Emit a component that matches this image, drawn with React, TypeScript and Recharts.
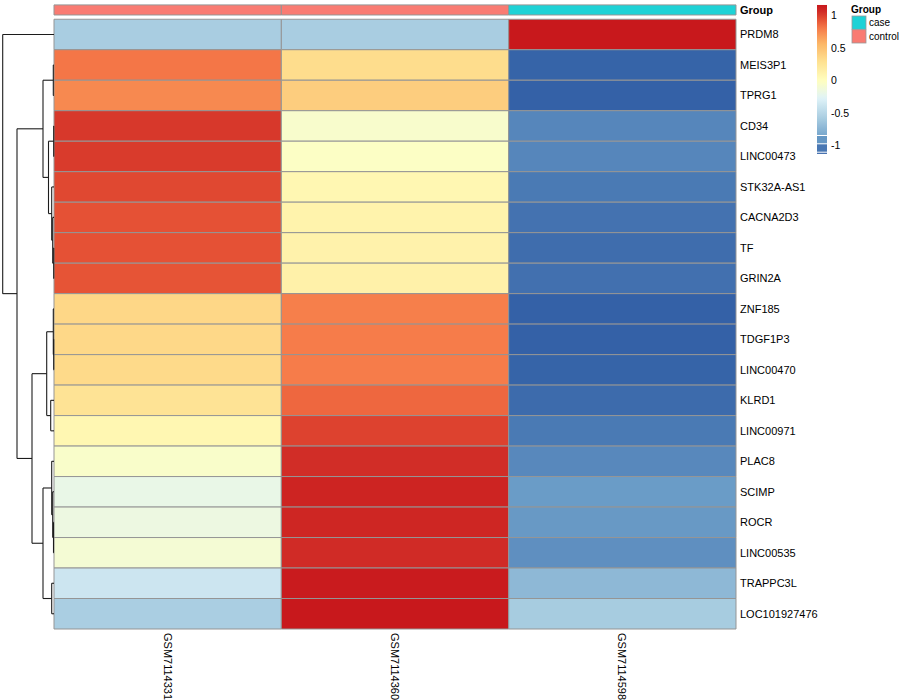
import { ComposedChart, XAxis, YAxis, ReferenceArea, ReferenceLine, Scatter } from "recharts";

// rows in the clustered order shown top -> bottom
const genes = [
  "PRDM8", "MEIS3P1", "TPRG1", "CD34", "LINC00473", "STK32A-AS1", "CACNA2D3", "TF", "GRIN2A",
  "ZNF185", "TDGF1P3", "LINC00470", "KLRD1", "LINC00971", "PLAC8", "SCIMP", "ROCR",
  "LINC00535", "TRAPPC3L", "LOC101927476",
];
const samples = ["GSM7114331", "GSM7114360", "GSM7114598"];
const sampleGroup = ["control", "control", "case"];

// row-scaled expression (z-score) per sample
const gsm7114331 = [
  -0.577, 0.82, 0.75, 1.02, 1.01, 0.97, 0.94, 0.94, 0.93,
  0.36, 0.35, 0.34, 0.27, 0.08, -0.05, -0.19, -0.16, -0.1, -0.38, -0.57,
];
const gsm7114360 = [
  -0.577, 0.32, 0.42, -0.06, -0.03, 0.08, 0.12, 0.13, 0.14,
  0.79, 0.8, 0.8, 0.87, 0.99, 1.06, 1.1, 1.09, 1.07, 1.14, 1.155,
];
const gsm7114598 = [
  1.155, -1.14, -1.15, -1.0, -1.0, -1.05, -1.08, -1.1, -1.09,
  -1.15, -1.15, -1.14, -1.11, -1.05, -0.99, -0.91, -0.92, -0.96, -0.72, -0.585,
];

// hierarchical clustering of rows: [left, right, height]; numbers refer to earlier merges
const merges: [string | number, string | number, number][] = [
  ["MEIS3P1", "TPRG1", 0.07], // 0
  ["CD34", "LINC00473", 0.03], // 1
  ["TF", "GRIN2A", 0.03], // 2
  ["CACNA2D3", 2, 0.13], // 3
  ["STK32A-AS1", 3, 0.23], // 4
  [1, 4, 0.55], // 5
  [0, 5, 1.1], // 6
  ["TDGF1P3", "LINC00470", 0.03], // 7
  ["ZNF185", 7, 0.07], // 8
  ["KLRD1", "LINC00971", 0.33], // 9
  [8, 9, 0.73], // 10
  ["ROCR", "LINC00535", 0.05], // 11
  ["SCIMP", 11, 0.13], // 12
  ["PLAC8", 12, 0.23], // 13
  ["TRAPPC3L", "LOC101927476", 0.23], // 14
  [13, 14, 1.1], // 15
  [10, 15, 2.2], // 16
  [6, 16, 3.7], // 17
  ["PRDM8", 17, 5.13], // 18
];

const legendTicks = [1, 0.5, 0, -0.5, -1];
const groupLevels = ["case", "control"];
const groupColors: Record<string, string> = { case: "#1ED2D6", control: "#F97B72" };

const palette: [number, string][] = [
  [-1.155, "#3360A6"],
  [-0.9, "#6C9EC8"],
  [-0.577, "#A9CDE1"],
  [-0.27, "#E0F3F8"],
  [0, "#FFFFBF"],
  [0.3, "#FEE090"],
  [0.577, "#FCB566"],
  [0.8, "#F67C4A"],
  [0.95, "#E44E33"],
  [1.05, "#D22F28"],
  [1.155, "#C8181C"],
];

const hex = (c: string) => [1, 3, 5].map((i) => parseInt(c.slice(i, i + 2), 16));
function colorFor(v: number) {
  if (v <= palette[0][0]) return palette[0][1];
  for (let i = 1; i < palette.length; i++) {
    const [v1, c1] = palette[i];
    if (v <= v1) {
      const [v0, c0] = palette[i - 1];
      const t = (v - v0) / (v1 - v0);
      const a = hex(c0);
      const b = hex(c1);
      const m = a.map((x, k) => Math.round(x + (b[k] - x) * t));
      return `rgb(${m[0]},${m[1]},${m[2]})`;
    }
  }
  return palette[palette.length - 1][1];
}

const FONT = '"Liberation Sans", Arial, Helvetica, sans-serif';
const BORDER = "#959595";
const LINE = "#1c1c1c";

// dendrogram segments (in data units: x = -height, y = row position)
type Node = { y: number; h: number };
const segments: { x1: number; y1: number; x2: number; y2: number }[] = [];
const nodes: Node[] = [];
const resolve = (k: string | number): Node =>
  typeof k === "number" ? nodes[k] : { y: genes.indexOf(k) + 0.5, h: 0 };
merges.forEach(([l, r, h]) => {
  const a = resolve(l);
  const b = resolve(r);
  segments.push({ x1: -h, y1: a.y, x2: -h, y2: b.y });
  segments.push({ x1: -h, y1: a.y, x2: -a.h, y2: a.y });
  segments.push({ x1: -h, y1: b.y, x2: -b.h, y2: b.y });
  nodes.push({ y: (a.y + b.y) / 2, h });
});

const columns = [gsm7114331, gsm7114360, gsm7114598];
const ANNOT_Y = -0.31;

// anchor points so every axis has data behind it
const cellCenters = columns.flatMap((col, c) => col.map((v, r) => ({ x: c + 0.5, y: r + 0.5, v })));
const nodePoints = nodes.map((n) => ({ x: -n.h, y: n.y }));

const RowTick = (props: any) => {
  const { x, y, payload } = props;
  const v = payload.value;
  const label = v === ANNOT_Y ? "Group" : genes[Math.floor(v)];
  return (
    <text x={x} y={y} dy="0.35em" textAnchor="start" fontSize={11} fontFamily={FONT}
      fontWeight={v === ANNOT_Y ? "bold" : "normal"} fill="#000">
      {label}
    </text>
  );
};

const ColTick = (props: any) => {
  const { x, y, payload } = props;
  const label = samples[Math.floor(payload.value)];
  return (
    <text x={x} y={y} dy="0.35em" textAnchor="start" fontSize={11} fontFamily={FONT}
      fill="#000" transform={`rotate(90, ${x}, ${y})`}>
      {label}
    </text>
  );
};

function Legends() {
  const top = 1.165;
  const bottom = -0.835;
  const yOf = (v: number) => 15.7 + (1 - v) * 65;
  const stops = Array.from({ length: 41 }, (_, i) => i / 40);
  return (
    <svg width={900} height={700} style={{ position: "absolute", left: 0, top: 0, pointerEvents: "none" }}>
      <defs>
        <linearGradient id="cbar" x1="0" y1="0" x2="0" y2="1">
          {stops.map((t) => (
            <stop key={t} offset={t} stopColor={colorFor(top + (bottom - top) * t)} />
          ))}
        </linearGradient>
      </defs>
      <rect x={817} y={yOf(top)} width={10} height={yOf(bottom) - yOf(top)} fill="url(#cbar)" />
      <rect x={817} y={136} width={10} height={7.3} fill={colorFor(-0.93)} />
      <rect x={817} y={144.3} width={10} height={7.4} fill={colorFor(-1.06)} />
      <rect x={817} y={152.7} width={10} height={1.2} fill={colorFor(-1.14)} />
      {legendTicks.map((t) => (
        <text key={t} x={831} y={yOf(t)} dy="0.35em" fontSize={10.5} fontFamily={FONT} fill="#000">
          {t}
        </text>
      ))}
      <text x={851} y={9.5} dy="0.35em" fontSize={10} fontWeight="bold" fontFamily={FONT} fill="#000">
        Group
      </text>
      {groupLevels.map((g, i) => (
        <g key={g}>
          <rect x={852} y={16 + i * 13.7} width={14} height={13.3} fill={groupColors[g]} stroke="#9a9a9a" strokeWidth={0.8} />
          <text x={869} y={22.7 + i * 13.7} dy="0.35em" fontSize={10} fontFamily={FONT} fill="#000">
            {g}
          </text>
        </g>
      ))}
    </svg>
  );
}

export default function App() {
  const rowTicks = [ANNOT_Y, ...genes.map((_, i) => i + 0.5)];
  return (
    <div style={{ position: "absolute", left: 0, top: 0, width: 900, height: 700, background: "#fff", fontFamily: FONT }}>
      <ComposedChart width={900} height={700} margin={{ top: 4, right: 104, bottom: 5, left: 2 }}>
        <XAxis xAxisId="hm" dataKey="x" type="number" domain={[-0.22874, 3]} allowDataOverflow ticks={[0.5, 1.5, 2.5]}
          interval={0} height={66} tickSize={0} tickMargin={4} axisLine={false} tickLine={false} tick={<ColTick />} />
        <XAxis xAxisId="dend" dataKey="x" orientation="top" type="number" domain={[-5.2, 68.2]} allowDataOverflow hide />
        <YAxis yAxisId="rows" dataKey="y" orientation="right" type="number" domain={[-0.5, 20]} allowDataOverflow reversed
          ticks={rowTicks} interval={0} width={60} tickSize={0} tickMargin={4} axisLine={false} tickLine={false}
          tick={<RowTick />} />

        <Scatter xAxisId="hm" yAxisId="rows" data={cellCenters} fill="none" shape={() => <g />} isAnimationActive={false} />
        <Scatter xAxisId="dend" yAxisId="rows" data={nodePoints} fill="none" shape={() => <g />} isAnimationActive={false} />

        {sampleGroup.map((g, c) => (
          <ReferenceArea key={`ann-${c}`} xAxisId="hm" yAxisId="rows" x1={c} x2={c + 1} y1={-0.47} y2={-0.14}
            fill={groupColors[g]} fillOpacity={1} stroke={BORDER} strokeWidth={1} />
        ))}

        {columns.map((col, c) =>
          col.map((v, r) => (
            <ReferenceArea key={`c-${c}-${r}`} xAxisId="hm" yAxisId="rows" x1={c} x2={c + 1} y1={r} y2={r + 1}
              fill={colorFor(v)} fillOpacity={1} stroke={BORDER} strokeWidth={1} />
          ))
        )}

        {segments.map((s, i) => (
          <ReferenceLine key={`d-${i}`} xAxisId="dend" yAxisId="rows"
            segment={[{ x: s.x1, y: s.y1 }, { x: s.x2, y: s.y2 }]} stroke={LINE} strokeWidth={1.1} />
        ))}
      </ComposedChart>
      <Legends />
    </div>
  );
}
